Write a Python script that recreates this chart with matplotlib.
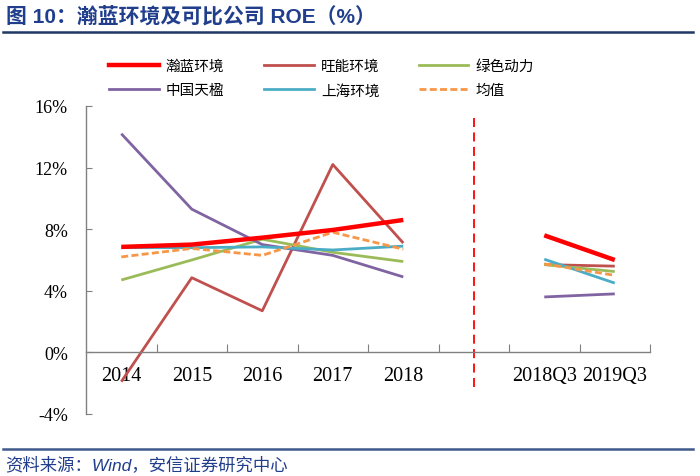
import matplotlib
matplotlib.use("Agg")
import matplotlib.pyplot as plt
import numpy as np

# 数据 (ROE, %)
years = ["2014", "2015", "2016", "2017", "2018"]
quarters = ["2018Q3", "2019Q3"]
names = ["瀚蓝环境", "旺能环境", "绿色动力", "中国天楹", "上海环境", "均值"]

hanlan = [6.85, 7.0, 7.45, 7.95, 8.6]
wangneng = [-1.9, 4.85, 2.7, 12.2, 7.1]
lvse = [4.7, 6.0, 7.35, 6.5, 5.9]
tianying = [14.2, 9.3, 7.0, 6.3, 4.9]
shanghai = [6.8, 6.8, 6.85, 6.65, 6.9]
junzhi = [6.2, 6.75, 6.3, 7.8, 6.7]

hanlan_q = [7.6, 6.0]
wangneng_q = [5.7, 5.6]
lvse_q = [5.7, 5.25]
tianying_q = [3.6, 3.8]
shanghai_q = [6.05, 4.5]
junzhi_q = [5.75, 5.0]

colors = ["#FF0000", "#C0504D", "#9BBB59", "#8064A2", "#4BACC6", "#F79646"]
widths = [3.2, 2.0, 2.0, 2.0, 2.0, 2.0]
styles = ["-", "-", "-", "-", "-", "--"]

annual = [hanlan, wangneng, lvse, tianying, shanghai, junzhi]
quarterly = [hanlan_q, wangneng_q, lvse_q, tianying_q, shanghai_q, junzhi_q]

xlabels = years + [""] + quarters
x_year = np.arange(len(years))
x_q = np.arange(len(years) + 1, len(xlabels))

fig = plt.figure(figsize=(7.0, 4.77), dpi=100)
ax = fig.add_axes([0.1229, 0.13, 0.8057, 0.6457])

def dash_of(i):
    return (2.5, 1.2) if styles[i] == "--" else (None, None)

# red line drawn last so it sits on top
order = [1, 2, 3, 4, 5, 0]
for i in order:
    ax.plot(x_year, annual[i], color=colors[i], lw=widths[i], ls=styles[i],
            solid_capstyle="butt", dash_capstyle="butt", dashes=dash_of(i))
    ax.plot(x_q, quarterly[i], color=colors[i], lw=widths[i], ls=styles[i],
            solid_capstyle="butt", dash_capstyle="butt", dashes=dash_of(i))

handles = []
for i in range(6):
    ln, = ax.plot([], [], color=colors[i], lw=widths[i], ls=styles[i], dashes=dash_of(i))
    handles.append(ln)

# 分隔线
sep_x = len(years)
ax.plot([sep_x, sep_x], [15.25, -2.5], color="#FF0000", lw=1.3, ls=(0, (5, 3)), clip_on=False)

ax.set_xlim(-0.5, len(xlabels) - 0.5)
ax.set_ylim(-4, 16)

yt = np.arange(-4, 17, 4)
ax.set_yticks(yt)
ax.set_yticklabels(["%d%%" % v for v in yt])
ax.set_xticks(np.arange(0.5, len(xlabels), 1.0))
ax.set_xticklabels([])
ax.set_xticks(np.arange(len(xlabels)), minor=True)
ax.set_xticklabels(xlabels, minor=True)

ax.spines["top"].set_visible(False)
ax.spines["right"].set_visible(False)
ax.spines["bottom"].set_position(("data", 0))
for s in ["left", "bottom"]:
    ax.spines[s].set_color("#808080")
    ax.spines[s].set_linewidth(1.0)

ax.tick_params(axis="y", direction="in", length=4, color="#808080", pad=13,
               labelsize=13, labelfontfamily="Liberation Serif")
ax.tick_params(axis="x", which="major", direction="in", length=6, color="#808080")
ax.tick_params(axis="x", which="minor", length=0, pad=10,
               labelsize=14.5, labelfontfamily="Liberation Serif")

# legend is filled column-wise, reorder to get the row layout
lo = [0, 3, 1, 4, 2, 5]
leg = fig.legend([handles[k] for k in lo], [names[k] for k in lo], ncol=3, loc="upper left",
                 bbox_to_anchor=(0.156, 0.874), frameon=False,
                 prop={"family": "Noto Sans CJK SC", "size": 10.5},
                 handlelength=3.4, handletextpad=0.5, columnspacing=2.7,
                 labelspacing=0.7, borderpad=0, borderaxespad=0)

# 标题与来源
fig.text(0.008, 0.965, "图 10：瀚蓝环境及可比公司 ROE（%）", fontsize=15, fontweight="bold",
         color="#203E8C", family=["Liberation Sans", "Noto Sans CJK SC"], va="center")
fig.add_artist(plt.Line2D([0.004, 0.99], [0.931, 0.931], color="#1F3864", lw=1.8))
fig.add_artist(plt.Line2D([0.004, 0.99], [0.057, 0.057], color="#3F5A8A", lw=1.8))
fig.text(0.008, 0.026, "资料来源：Wind，安信证券研究中心", fontsize=12.5, style="italic",
         color="#203E8C", family=["Liberation Sans", "Noto Sans CJK SC"], va="center")

fig.savefig("out.png", dpi=100, facecolor="white")
